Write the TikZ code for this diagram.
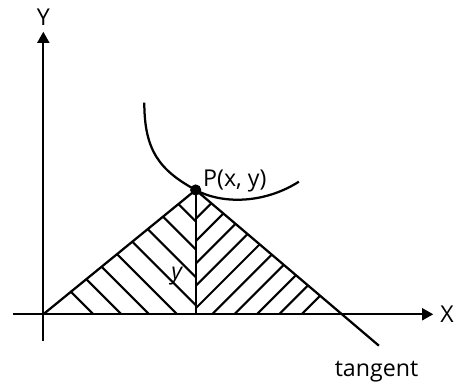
\documentclass[tikz,border=0pt]{standalone}
\usepackage{fontspec}
\setmainfont{Open Sans}
\usetikzlibrary{arrows.meta, calc}

\begin{document}
\begin{tikzpicture}[>={Triangle[length=8pt, width=8.5pt]}, line width=1.6pt,
  lbl/.style={font=\fontsize{16.5}{20}\selectfont, inner sep=0pt},
  hatch/.style={line width=1.5pt}]
  \useasboundingbox (-1.083,-1.7425) rectangle (10.268,7.8575);
  % key points
  \coordinate (O) at (0,0);
  \coordinate (P) at (3.81,3.1075);
  \coordinate (F) at (3.81,0);
  \coordinate (Tend) at (8.39,-0.785);
  \coordinate (T) at (intersection of P--Tend and O--F);
  % axes
  \coordinate (xs) at (-0.765,0);
  \coordinate (xe) at (9.75,0);
  \coordinate (ys) at (0,-0.66);
  \coordinate (ye) at (0,7.065);
  \draw[->] (xs) -- (xe);
  \draw[->] (ys) -- (ye);
  \node[lbl, anchor=west] (xlab) at (9.9,-0.01) {X};
  \node[lbl] (ylab) at (0,7.43) {Y};
  % hatching, left half
  \begin{scope}
    \clip (O) -- (P) -- (F) -- cycle;
    \foreach \i in {0,...,7}
      \draw[hatch] ({0.69+0.384*\i-0.3},{0.8156*(0.69+0.384*\i)+0.3}) -- ++(5,-5);
  \end{scope}
  % hatching, right half
  \begin{scope}
    \clip (P) -- (T) -- (F) -- cycle;
    \foreach \i in {0,...,9}
      \draw[hatch] ({4.2+0.302*\i+0.3},{3.1075-0.851*(0.39+0.302*\i)+0.3}) -- ++(-5,-5);
  \end{scope}
  % triangle and tangent
  \draw (O) -- (P);
  \draw (P) -- (F);
  \draw (P) -- (Tend);
  % curve through P
  \coordinate (S) at (2.525,5.29);
  \coordinate (E) at (6.39,3.315);
  \draw (S) .. controls (2.525,4.09) and (2.91,3.6) .. (P)
            .. controls (4.45,2.757) and (5.5,2.75) .. (E);
  \node[circle, fill, inner sep=0pt, minimum size=0.28cm] (dot) at (P) {};
  % labels
  \node[lbl, anchor=base west] (plab) at ($(P)+(0.16,0.08)$) {P(x, y)};
  \node[lbl, anchor=base, font=\fontsize{16.5}{20}\selectfont\itshape] (ylab2) at ($(F)+(-0.475,0.87)$) {y};
  \node[lbl, anchor=base] (tlab) at ($(Tend)+(-0.06,-0.775)$) {tangent};
\end{tikzpicture}
\end{document}
